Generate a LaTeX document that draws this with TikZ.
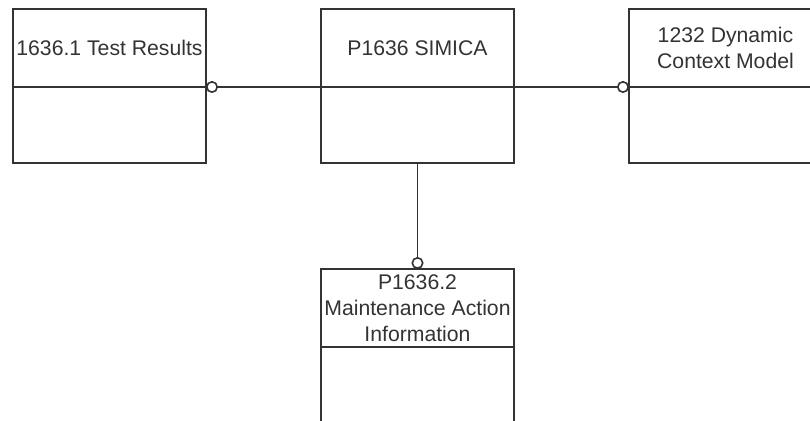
\documentclass[tikz,border=0pt]{standalone}
\usepackage{fontspec}
\setmainfont{Liberation Sans}
\usetikzlibrary{arrows.meta, positioning}

\begin{document}
\begin{tikzpicture}[
      node distance=57.5pt,
      line width=0.8pt,
      head/.style={rectangle, draw=black!80, minimum width=96.5pt,
        minimum height=39pt, inner sep=0pt, outer sep=0pt, align=center,
        text=black!80, font=\fontsize{10.6}{13}\selectfont},
      body/.style={rectangle, draw=black!80, minimum width=96.5pt,
        minimum height=38pt, inner sep=0pt, outer sep=0pt},
      assoc/.style={-{Circle[open, length=6pt]}, draw=black!80}
    ]
    \useasboundingbox (0,0) rectangle (405pt,-210.5pt);
    \clip (0,0) rectangle (405pt,-210.5pt);

    % ---- top row ----
    \node[head, anchor=north west] (res) at (6.5pt,-4.5pt) {1636.1 Test Results};
    \node[body, below=0pt of res]     (res-b) {};
    \node[head, right=of res]         (simica) {P1636 SIMICA};
    \node[body, below=0pt of simica]  (simica-b) {};
    \node[head, right=of simica]      (dcm) {1232 Dynamic\\Context Model};
    \node[body, below=0pt of dcm]     (dcm-b) {};

    % ---- bottom ----
    \node[head, below=53pt of simica-b] (mai)
      {P1636.2\\Maintenance Action\\Information};
    \node[body, below=0pt of mai]     (mai-b) {};

    \draw[assoc] (simica.south west) -- (res.south east);
    \draw[assoc] (simica.south east) -- (dcm.south west);
    \draw[assoc] (simica-b.south)    -- (mai.north);
  \end{tikzpicture}
\end{document}
